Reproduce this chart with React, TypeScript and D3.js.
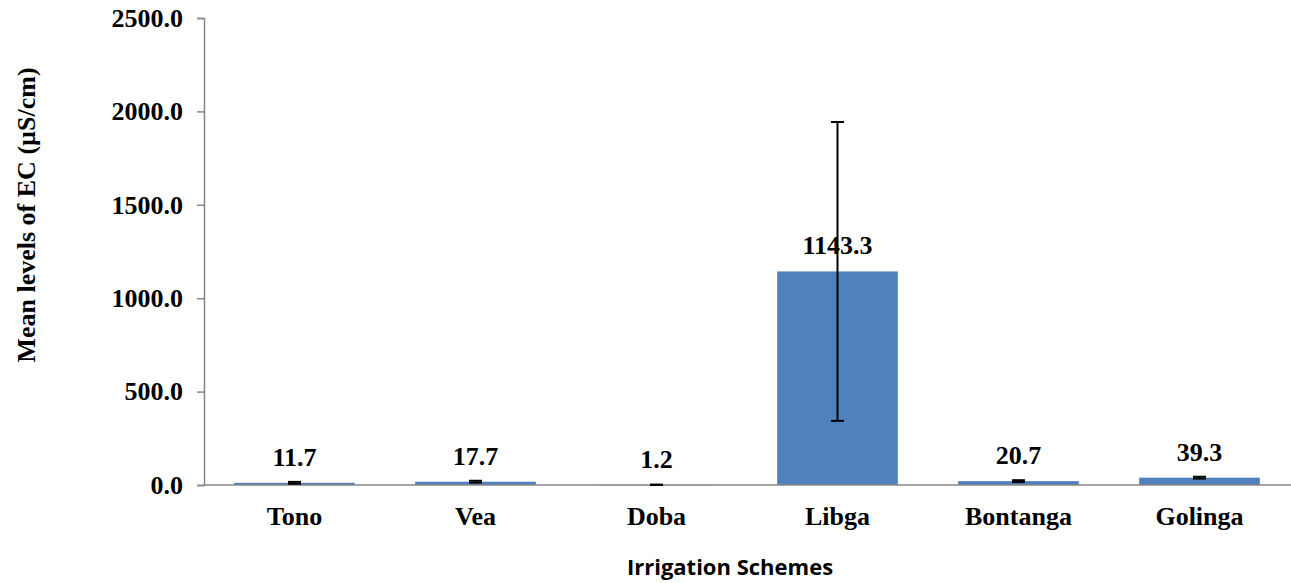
import { useRef, useEffect } from "react";
import { select, scaleBand, scaleLinear, axisLeft, format } from "d3";

// Data
const schemes = ["Tono", "Vea", "Doba", "Libga", "Bontanga", "Golinga"];
const meanEC = [11.7, 17.7, 1.2, 1143.3, 20.7, 39.3];
const errEC = [5, 5, 1, 800, 5, 5];
const yTicks = [0, 500, 1000, 1500, 2000, 2500];

const W = 1291;
const H = 583;
const serif = "'Liberation Serif', 'Times New Roman', serif";

export default function App() {
  const svgRef = useRef<SVGSVGElement | null>(null);

  useEffect(() => {
    const svg = select(svgRef.current);

    // Scales
    const x = scaleBand<string>()
      .domain(schemes)
      .range([204, 1290])
      .paddingInner(1 / 3)
      .paddingOuter(1 / 6);
    const y = scaleLinear().domain([0, 2500]).range([485, 18]);

    // Y axis
    const yAxis = axisLeft(y)
      .tickValues(yTicks)
      .tickFormat((d) => format(".1f")(d as number))
      .tickSize(7)
      .tickPadding(14);
    const gy = svg.select<SVGGElement>(".y-axis")
      .attr("transform", "translate(204,0)")
      .call(yAxis);
    gy.select(".domain").attr("stroke", "#868686").attr("stroke-width", 1.5);
    gy.selectAll(".tick line").attr("stroke", "#868686").attr("stroke-width", 1.5);
    gy.selectAll(".tick text")
      .attr("fill", "#000")
      .attr("font-family", serif)
      .attr("font-weight", "bold")
      .attr("font-size", 26);

    // Bars
    svg.select(".bars")
      .selectAll("rect")
      .data(schemes)
      .join("rect")
      .attr("x", (d) => x(d)!)
      .attr("width", x.bandwidth())
      .attr("y", (_, i) => y(meanEC[i]))
      .attr("height", (_, i) => y(0) - y(meanEC[i]))
      .attr("fill", "#4F81BD");

    // X axis line
    svg.select(".x-axis")
      .selectAll("line")
      .data([0])
      .join("line")
      .attr("x1", 204)
      .attr("x2", 1291)
      .attr("y1", y(0))
      .attr("y2", y(0))
      .attr("stroke", "#868686")
      .attr("stroke-width", 1.5);

    // Error bars
    const eb = svg.select(".errors")
      .selectAll("g")
      .data(schemes)
      .join("g")
      .attr("stroke", "#000")
      .attr("stroke-width", 2);
    eb.selectAll("line").remove();
    eb.each(function (d, i) {
      const g = select(this);
      const cx = x(d)! + x.bandwidth() / 2;
      const hi = y(meanEC[i] + errEC[i]);
      const lo = y(Math.max(0, meanEC[i] - errEC[i]));
      g.append("line").attr("x1", cx).attr("x2", cx).attr("y1", hi).attr("y2", lo);
      g.append("line").attr("x1", cx - 6.5).attr("x2", cx + 6.5).attr("y1", hi).attr("y2", hi);
      g.append("line").attr("x1", cx - 6.5).attr("x2", cx + 6.5).attr("y1", lo).attr("y2", lo);
    });

    // Value labels
    svg.select(".labels")
      .selectAll("text")
      .data(schemes)
      .join("text")
      .attr("x", (d) => x(d)! + x.bandwidth() / 2)
      .attr("y", (_, i) => y(meanEC[i]) - 17)
      .attr("text-anchor", "middle")
      .attr("font-family", serif)
      .attr("font-weight", "bold")
      .attr("font-size", 26)
      .text((_, i) => format(".1f")(meanEC[i]));

    // Category labels
    svg.select(".cats")
      .selectAll("text")
      .data(schemes)
      .join("text")
      .attr("x", (d) => x(d)! + x.bandwidth() / 2)
      .attr("y", 525)
      .attr("text-anchor", "middle")
      .attr("font-family", serif)
      .attr("font-weight", "bold")
      .attr("font-size", 26)
      .text((d) => d);
  }, []);

  return (
    <svg
      ref={svgRef}
      width={W}
      height={H}
      style={{ position: "absolute", left: 0, top: 0, background: "#fff" }}
    >
      <g className="bars" />
      <g className="x-axis" />
      <g className="y-axis" />
      <g className="errors" />
      <g className="labels" />
      <g className="cats" />
      <text
        x={730}
        y={575}
        textAnchor="middle"
        fontFamily="'Open Sans', sans-serif"
        fontWeight="bold"
        fontSize={22}
      >
        Irrigation Schemes
      </text>
      <text
        transform="translate(35,215) rotate(-90)"
        textAnchor="middle"
        fontFamily={serif}
        fontWeight="bold"
        fontSize={26}
      >
        Mean levels of EC (µS/cm)
      </text>
    </svg>
  );
}
